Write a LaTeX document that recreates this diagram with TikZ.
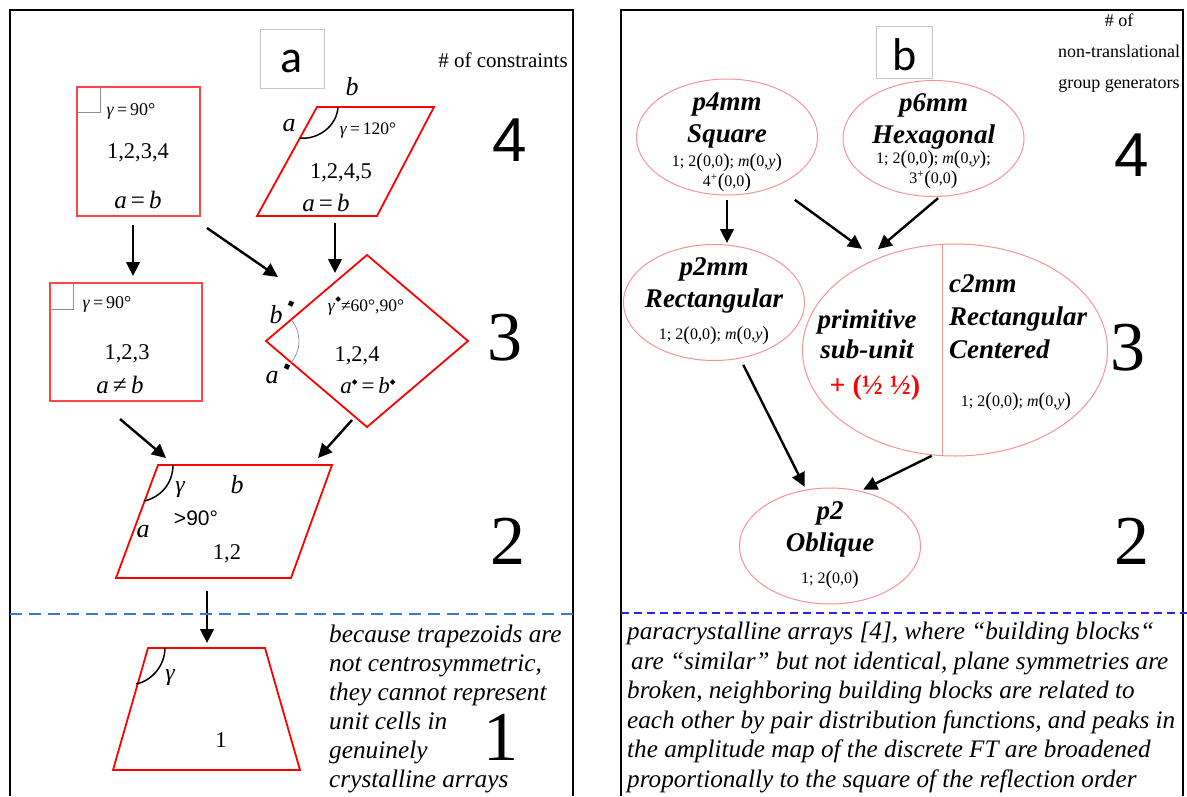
\documentclass[tikz,border=0pt]{standalone}
\usepackage{fontspec}
\usepackage{tikz}
\usetikzlibrary{arrows.meta,shapes.geometric}
\setmainfont{Liberation Serif}
\newfontfamily\tagfont{Carlito}
\newfontfamily\arialfont{Liberation Sans}
\newfontfamily\symbfont{DejaVu Sans}
\definecolor{redMain}{HTML}{FF0000}
\definecolor{redSoft}{HTML}{FF4545}
\definecolor{redPale}{HTML}{F49494}
\definecolor{grayMark}{HTML}{8E8E8E}
\definecolor{grayBox}{HTML}{C6C6C6}
\definecolor{blueDash}{HTML}{3B78D2}
\definecolor{blueVivid}{HTML}{2626E8}
\newcommand{\fsz}[2]{\fontsize{#1pt}{#2pt}\selectfont}
\newcommand{\blackdia}{{\symbfont\fsz{9}{9}◆}}
\newcommand{\supdia}[1][0.4em]{\raisebox{#1}{\symbfont\fsz{7.5}{7.5}◆}}
\newcommand{\bigpar}[1]{\raisebox{-0.6pt}{\fsz{20}{20}(}#1\raisebox{-0.6pt}{\fsz{20}{20})}}
\newcommand{\GroupOval}[7]{%
    \node[groupoval] (#3) at (#1,#2) {};
    \node[grouptitle] (#3Title) at (#1,#2-27) {#4};
    \node[grouptitle] (#3Kind) at (#1,#2+5) {#5};
    \node[groupsub] (#3Gens) at (#1,#2+#6) {#7};
}
\begin{document}
\begin{tikzpicture}[x=1pt,y=-1pt]

            \tikzset{
                panel/.style={draw=black,line width=2pt},
                tagbox/.style={draw=grayBox,line width=1pt},
                cellthin/.style={draw=redSoft,line width=1.1pt},
                cellbold/.style={draw=redMain,line width=1.8pt},
                anglearc/.style={draw=black,line width=1.5pt},
                rightmark/.style={draw=grayMark,line width=0.9pt},
                flow/.style={line width=2.4pt,-{Triangle[length=14pt,width=13.5pt]}},
                txt/.style={inner sep=0pt},
                groupoval/.style={ellipse,draw=redPale,line width=1pt,minimum width=181pt,minimum height=116pt,inner sep=0pt},
                grouptitle/.style={anchor=base,inner sep=0pt,font=\fsz{27}{27}\bfseries\itshape},
                groupsub/.style={anchor=north,inner sep=0pt,align=center,font=\fsz{16}{20}},
                levelnum/.style={inner sep=0pt,font=\fsz{70}{70}},
                levelsans/.style={inner sep=0pt,font=\arialfont\fsz{62}{62}},
                note/.style={anchor=north west,inner sep=0pt,align=left,font=\itshape\fsz{25.3}{29}}
            }
            \useasboundingbox (0,0) rectangle (1187,796);

            % panel a
            \draw[panel] (10,796) -- (10,10) -- (573,10) -- (573,796);
            \draw[tagbox] (260,29) rectangle (324,88);
            \node[txt,font=\tagfont\fsz{46}{46}] (tagA) at (292,61) {a};
            \node[txt,font=\fsz{21}{21}] (consHead) at (503,60) {\# of constraints};

            \draw[cellthin] (77,87) rectangle (200,216);
            \draw[rightmark] (77,112) -- (100,112) -- (100,87);
            \node[txt,font=\fsz{18}{18}] (sqGam) at (131,111) {\textit{γ}\,=\,90°};
            \node[txt,font=\fsz{22.5}{22.5}] (sqIdx) at (138,153) {1,2,3,4};
            \node[txt,font=\fsz{25}{25}] (sqRel) at (138,200) {\textit{a}\,=\,\textit{b}};

            \draw[cellbold] (317,107) -- (434,107) -- (377,216) -- (257,216) -- cycle;
            \draw[anglearc] (300,138) .. controls (318,140) and (337,126) .. (338,107);
            \node[txt,font=\itshape\fsz{26}{26}] (hexA) at (289,126) {a};
            \node[txt,font=\itshape\fsz{26}{26}] (hexB) at (352,87) {b};
            \node[txt,font=\fsz{17.5}{17.5}] (hexGam) at (368,131) {\textit{γ}\,=\,120°};
            \node[txt,font=\fsz{22.5}{22.5}] (hexIdx) at (341,173) {1,2,4,5};
            \node[txt,font=\fsz{25}{25}] (hexRel) at (326,203) {\textit{a}\,=\,\textit{b}};

            \draw[cellthin] (50,283) rectangle (202,401);
            \draw[rightmark] (50,309) -- (73,309) -- (73,283);
            \node[txt,font=\fsz{18}{18}] (recGam) at (107,304) {\textit{γ}\,=\,90°};
            \node[txt,font=\fsz{22.5}{22.5}] (recIdx) at (127,354) {1,2,3};
            \node[txt,font=\fsz{25}{25}] (recRel) at (120,385) {\textit{a}\,≠\,\textit{b}};

            \draw[cellbold] (266,341) -- (367,255) -- (468,341) -- (367,427) -- cycle;
            \draw[rightmark,line width=0.7pt] (266,341) ++(-40.4:33) arc[start angle=-40.4,end angle=40.4,radius=33];
            \node[txt,font=\itshape\fsz{26}{26}] (rbB) at (276,315) {b};
            \node[txt,rotate=20] (rbBdia) at (291,304) {\blackdia};
            \node[txt,font=\itshape\fsz{26}{26}] (rbA) at (272,378) {a};
            \node[txt,rotate=20] (rbAdia) at (287,367) {\blackdia};
            \node[txt,font=\fsz{17.5}{17.5}] (rbGam) at (366,306) {\textit{γ}\supdia[0.6em]≠60°,90°};
            \node[txt,font=\fsz{22.5}{22.5}] (rbIdx) at (357,356) {1,2,4};
            \node[txt,font=\fsz{23}{23}] (rbRel) at (368,386) {\textit{a}\supdia\,=\,\textit{b}\supdia};

            \draw[cellbold] (158,465) -- (332,465) -- (291,578) -- (116,578) -- cycle;
            \draw[anglearc] (144,501) .. controls (162,497) and (173,482) .. (173,465);
            \node[txt,font=\itshape\fsz{24}{24}] (obGam) at (180,490) {γ};
            \node[txt,font=\itshape\fsz{26}{26}] (obB) at (237,485) {b};
            \node[txt,font=\arialfont\fsz{21}{21}] (obAng) at (196,518) {>90°};
            \node[txt,font=\itshape\fsz{26}{26}] (obA) at (143,532) {a};
            \node[txt,font=\fsz{22.5}{22.5}] (obIdx) at (227,554) {1,2};

            \draw[cellbold] (148,648) -- (265,648) -- (300,770) -- (113,770) -- cycle;
            \draw[anglearc] (136,684) .. controls (152,681) and (165,665) .. (165,648);
            \node[txt,font=\itshape\fsz{24}{24}] (tzGam) at (170,678) {γ};
            \node[txt,font=\fsz{22.5}{22.5}] (tzIdx) at (221,740) {1};

            \coordinate (sqExitS) at (133,225);  \coordinate (recEntry) at (133,276);
            \coordinate (sqExitSE) at (207,228); \coordinate (rbEntryW) at (278,277);
            \coordinate (hexExit) at (335,223);  \coordinate (rbEntryN) at (335,273);
            \coordinate (recExit) at (120,419);  \coordinate (obEntryL) at (166,458);
            \coordinate (rbExit) at (352,420);   \coordinate (obEntryR) at (318,458);
            \coordinate (obExit) at (207,591);   \coordinate (tzEntry) at (207,643);
            \draw[flow] (sqExitS) -- (recEntry);
            \draw[flow] (sqExitSE) -- (rbEntryW);
            \draw[flow] (hexExit) -- (rbEntryN);
            \draw[flow] (recExit) -- (obEntryL);
            \draw[flow] (rbExit) -- (obEntryR);
            \draw[flow] (obExit) -- (tzEntry);

            \node[levelsans] (consFour) at (510,140) {4};
            \node[levelnum] (consThree) at (505,338) {3};
            \node[levelnum] (consTwo) at (508,541) {2};
            \node[levelnum] (consOne) at (501,737) {1};

            \draw[draw=blueDash,line width=2pt,dash pattern=on 12pt off 7pt] (10,614) -- (573,614);
            \node[note] (noteTrap) at (329,625) {because trapezoids are\\not centrosymmetric,\\they cannot represent\\unit cells in\\genuinely\\crystalline arrays};

            % panel b
            \draw[panel] (621,796) -- (621,10) -- (1183,10) -- (1183,796);
            \draw[tagbox] (876,26) rectangle (932,78);
            \node[txt,font=\tagfont\fsz{46}{46}] (tagB) at (905,55) {b};
            \node[txt,align=center,font=\fsz{18}{31}] (genHead) at (1119,53) {\# of\\non-translational\\group generators};

            \GroupOval{727}{137}{p4mm}{p4mm}{Square}{16}{1; 2\bigpar{0,0}; \textit{m}\bigpar{0,\textit{y}}\\4\textsuperscript{+}\bigpar{0,0}}
            \GroupOval{933.5}{138.5}{p6mm}{p6mm}{Hexagonal}{12}{1; 2\bigpar{0,0}; \textit{m}\bigpar{0,\textit{y}};\\3\textsuperscript{+}\bigpar{0,0}}
            \GroupOval{714}{302.5}{p2mm}{p2mm}{Rectangular}{24}{1; 2\bigpar{0,0}; \textit{m}\bigpar{0,\textit{y}}}
            \GroupOval{830}{546}{p2}{p2}{Oblique}{24}{1; 2\bigpar{0,0}}

            \node[groupoval,minimum width=305pt,minimum height=212pt] (c2mm) at (955,350) {};
            \draw[draw=redPale,line width=1pt] (942,245) -- (942,455);
            \node[grouptitle] (c2mmPrim) at (867,328) {primitive};
            \node[grouptitle] (c2mmSub) at (867,358) {sub-unit};
            \node[grouptitle,font=\fsz{28}{28}\bfseries,text=redMain] (c2mmShift) at (875,394) {+ (½ ½)};
            \node[grouptitle,anchor=base west] (c2mmTitle) at (949,292) {c2mm};
            \node[grouptitle,anchor=base west] (c2mmKind) at (949,325) {Rectangular};
            \node[grouptitle,anchor=base west] (c2mmCent) at (949,358) {Centered};
            \node[groupsub,anchor=base] (c2mmGens) at (1016,406) {1; 2\bigpar{0,0}; \textit{m}\bigpar{0,\textit{y}}};

            \draw[flow,shorten <=4pt,shorten >=1pt] (p4mm.south) -- (p4mm.south |- p2mm.north);
            \draw[flow,shorten <=23pt,shorten >=17pt] (p4mm.-45) -- (c2mm.131.5);
            \draw[flow,shorten <=2pt,shorten >=35pt] (p6mm.-84) -- (c2mm.143.7);
            \draw[flow,shorten <=7pt,shorten >=3pt] (p2mm.-65) -- (p2.113);
            \draw[flow,shorten <=1pt,shorten >=3pt] (c2mm.-102) -- (p2.61);

            \node[levelsans] (genFour) at (1132,155) {4};
            \node[levelnum] (genThree) at (1128,348) {3};
            \node[levelnum] (genTwo) at (1132,541) {2};

            \draw[draw=blueVivid,line width=2pt,dash pattern=on 8pt off 5pt] (621,613) -- (1187,613);
            \node[note,font=\itshape\fsz{25.2}{29.5}] (noteRight) at (627,622) {paracrystalline arrays [4], where “building blocks“\\\hspace*{4pt}are “similar” but not identical, plane symmetries are\\broken, neighboring building blocks are related to\\each other by pair distribution functions, and peaks in\\the amplitude map of the discrete FT are broadened\\proportionally to the square of the reflection order};

        \end{tikzpicture}
\end{document}
